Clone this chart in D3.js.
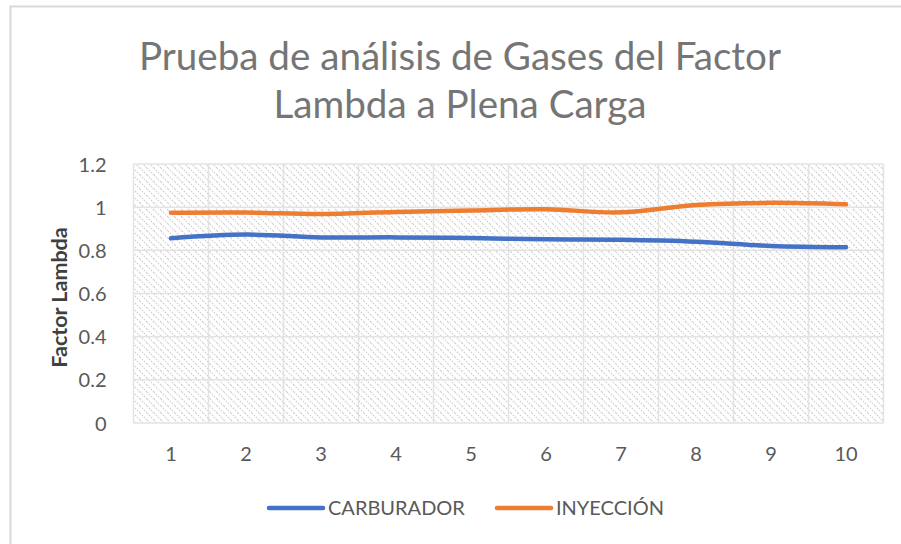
<!DOCTYPE html>
<html>
<head>
<meta charset="utf-8">
<script src="https://cdn.jsdelivr.net/npm/d3@7"></script>
<style>
  html, body { margin: 0; padding: 0; background: #fff; }
  svg { display: block; }
  text { font-family: Lato, "Open Sans", sans-serif; }
</style>
</head>
<body>
<svg id="chart" width="901" height="544"></svg>
<script>
// Lambda readings per test number
const categories = [1, 2, 3, 4, 5, 6, 7, 8, 9, 10];
const carburador = [0.856, 0.873, 0.86, 0.86, 0.857, 0.851, 0.849, 0.84, 0.82, 0.814];
const inyeccion = [0.974, 0.975, 0.968, 0.978, 0.985, 0.99, 0.976, 1.01, 1.02, 1.013];
const yTicks = [0, 0.2, 0.4, 0.6, 0.8, 1, 1.2];
const seriesNames = ["CARBURADOR", "INYECCIÓN"];
const seriesColors = ["#4472C4", "#ED7D31"];
const titleLines = ["Prueba de análisis de Gases del Factor", "Lambda a Plena Carga"];
const yTitle = "Factor Lambda";

const svg = d3.select("#chart");
const plot = { left: 133.5, right: 883.5, top: 164, bottom: 423 };

const x = d3.scaleBand().domain(categories).range([plot.left, plot.right]).padding(0);
const y = d3.scaleLinear().domain([0, 1.2]).range([plot.bottom, plot.top]);

// chart frame
svg.append("rect")
  .attr("x", 10.5).attr("y", 6.5).attr("width", 900).attr("height", 560)
  .attr("fill", "#fff").attr("stroke", "#d9d9d9").attr("stroke-width", 2);

// hatch fill for the plot area
const defs = svg.append("defs");
const pat = defs.append("pattern")
  .attr("id", "hatch").attr("patternUnits", "userSpaceOnUse")
  .attr("width", 7).attr("height", 7);
pat.append("rect").attr("width", 7).attr("height", 7).attr("fill", "#fff");
pat.append("path")
  .attr("d", "M-2,-2 L9,9 M-2,5 L2,9 M5,-2 L9,2")
  .attr("stroke", "#d2d2d2").attr("stroke-width", 1.4)
  .attr("stroke-dasharray", "1.4 1.4");

svg.append("rect")
  .attr("x", plot.left).attr("y", plot.top)
  .attr("width", plot.right - plot.left).attr("height", plot.bottom - plot.top)
  .attr("fill", "url(#hatch)");

// gridlines
const grid = svg.append("g").attr("stroke", "#e3e3e3").attr("stroke-width", 1.5);
grid.selectAll("line.h").data(yTicks).join("line")
  .attr("x1", plot.left).attr("x2", plot.right)
  .attr("y1", d => y(d)).attr("y2", d => y(d));
const bounds = categories.map(c => x(c)).concat([plot.right]);
grid.selectAll("line.v").data(bounds).join("line")
  .attr("x1", d => d).attr("x2", d => d)
  .attr("y1", plot.top).attr("y2", plot.bottom);

// axes
const yAxis = svg.append("g")
  .attr("transform", `translate(${plot.left - 24},0)`)
  .call(d3.axisLeft(y).tickValues(yTicks).tickSize(0).tickFormat(d3.format("~g")));
yAxis.select(".domain").remove();
yAxis.selectAll("text").attr("font-size", 20).attr("fill", "#595959").attr("dy", "0.35em");

const xAxis = svg.append("g")
  .attr("transform", `translate(0,${plot.bottom + 21})`)
  .call(d3.axisBottom(x).tickSize(0));
xAxis.select(".domain").remove();
xAxis.selectAll("text").attr("font-size", 20).attr("fill", "#595959").attr("dy", "0.71em");

// lines
const line = d3.line()
  .x((d, i) => x(categories[i]) + x.bandwidth() / 2)
  .y(d => y(d))
  .curve(d3.curveCatmullRom.alpha(0.5));
[carburador, inyeccion].forEach((vals, i) => {
  svg.append("path").datum(vals)
    .attr("fill", "none").attr("stroke", seriesColors[i])
    .attr("stroke-width", 4.5).attr("stroke-linecap", "round")
    .attr("d", line);
});

// title
svg.append("text")
  .attr("x", 460).attr("y", 70).attr("text-anchor", "middle")
  .attr("font-size", 38.6).attr("fill", "#757575")
  .selectAll("tspan").data(titleLines).join("tspan")
  .attr("x", 460).attr("dy", (d, i) => i === 0 ? 0 : 48).text(d => d);

// y axis title
svg.append("text")
  .attr("transform", `translate(67,${(plot.top + plot.bottom) / 2 + 4}) rotate(-90)`)
  .attr("text-anchor", "middle").attr("font-size", 21.5).attr("font-weight", "bold")
  .attr("fill", "#404040").text(yTitle);

// legend
const legendX = [269, 497];
seriesNames.forEach((name, i) => {
  const g = svg.append("g").attr("transform", `translate(${legendX[i]},508)`);
  g.append("line").attr("x1", 0).attr("x2", 54).attr("y1", 0).attr("y2", 0)
    .attr("stroke", seriesColors[i]).attr("stroke-width", 4.5).attr("stroke-linecap", "round");
  g.append("text").attr("x", 59).attr("y", 0).attr("dy", "0.35em")
    .attr("font-size", 20).attr("fill", "#595959").text(name);
});
</script>
</body>
</html>
